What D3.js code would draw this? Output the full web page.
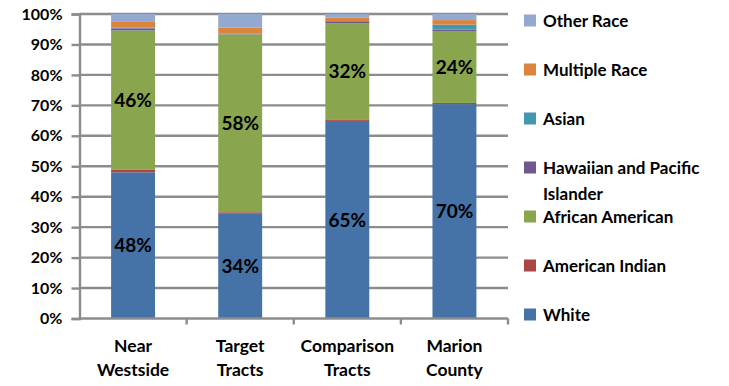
<!DOCTYPE html>
<html>
<head>
<meta charset="utf-8">
<script src="https://cdn.jsdelivr.net/npm/d3@7"></script>
<style>
  html, body { margin: 0; padding: 0; background: #fff; }
  svg { display: block; }
  text { font-family: Lato, "Open Sans", sans-serif; font-weight: bold; fill: #000; }
</style>
</head>
<body>
<svg id="chart" width="729" height="386"></svg>
<script>
// Areas compared (two-line axis labels)
const categories = ["Near Westside", "Target Tracts", "Comparison Tracts", "Marion County"];
const categoryLines = [["Near", "Westside"], ["Target", "Tracts"], ["Comparison", "Tracts"], ["Marion", "County"]];

// Race groups, bottom to top of each stack
const races = ["White", "American Indian", "African American", "Hawaiian and Pacific Islander", "Asian", "Multiple Race", "Other Race"];
const raceColors = ["#4572A7", "#AA4643", "#89A54E", "#71588F", "#4198AF", "#DB843D", "#93A9CF"];

// Share of population (%) per area, one array per race group
const white           = [48.0, 34.4, 64.9, 70.4];
const americanIndian  = [0.8, 0.5, 0.5, 0.4];
const africanAmerican = [45.8, 58.4, 31.6, 23.6];
const hawaiianPacific = [0.7, 0.1, 0.6, 0.5];
const asian           = [0.2, 0.1, 0.1, 1.6];
const multipleRace    = [1.9, 2.0, 1.1, 1.5];
const otherRace       = [2.6, 4.5, 1.2, 2.0];

const yTicks = [0, 10, 20, 30, 40, 50, 60, 70, 80, 90, 100];
// Segments that carry a percentage label
const labelledRaces = ["White", "African American"];

const seriesValues = [white, americanIndian, africanAmerican, hawaiianPacific, asian, multipleRace, otherRace];
const rows = categories.map((c, i) => {
  const r = { category: c };
  races.forEach((race, k) => { r[race] = seriesValues[k][i]; });
  return r;
});

const svg = d3.select("#chart");
const axisColor = "#8c8c8c";

const x = d3.scaleBand().domain(categories).range([79.5, 508]).paddingInner(0.59).paddingOuter(0.295);
const y = d3.scaleLinear().domain([0, 100]).range([318.5, 14]);
const color = d3.scaleOrdinal().domain(races).range(raceColors);

// Horizontal gridlines
svg.append("g")
  .selectAll("line")
  .data(yTicks.filter(t => t > 0))
  .join("line")
  .attr("x1", 79.5).attr("x2", 508)
  .attr("y1", d => y(d)).attr("y2", d => y(d))
  .attr("stroke", axisColor).attr("stroke-width", 2.4);

// Stacked bars
const stacked = d3.stack().keys(races)(rows);
svg.append("g")
  .selectAll("g")
  .data(stacked)
  .join("g")
  .attr("fill", d => color(d.key))
  .selectAll("rect")
  .data(d => d)
  .join("rect")
  .attr("x", d => x(d.data.category))
  .attr("width", x.bandwidth())
  .attr("y", d => y(d[1]))
  .attr("height", d => y(d[0]) - y(d[1]));

// Value labels in the two largest segments
stacked.filter(s => labelledRaces.includes(s.key)).forEach(s => {
  svg.append("g")
    .selectAll("text")
    .data(s)
    .join("text")
    .attr("x", d => x(d.data.category) + x.bandwidth() / 2)
    .attr("y", d => (y(d[0]) + y(d[1])) / 2)
    .attr("dy", "0.36em")
    .attr("text-anchor", "middle")
    .attr("font-size", 19)
    .text(d => Math.round(d.data[s.key]) + "%");
});

// Y axis
const yAxis = svg.append("g")
  .attr("transform", "translate(79.5,0)")
  .call(d3.axisLeft(y).tickValues(yTicks).tickSize(8).tickPadding(9).tickFormat(d => d + "%"));
yAxis.select(".domain").attr("stroke", axisColor).attr("stroke-width", 2.4);
yAxis.selectAll(".tick line").attr("stroke", axisColor).attr("stroke-width", 2.4);
yAxis.selectAll(".tick text").attr("font-size", 16).attr("font-family", "Lato, sans-serif").attr("font-weight", "bold").attr("fill", "#000");

// X axis baseline with boundary ticks between categories
const xAxis = svg.append("g");
xAxis.append("line")
  .attr("x1", 79.5).attr("x2", 508)
  .attr("y1", y(0)).attr("y2", y(0))
  .attr("stroke", axisColor).attr("stroke-width", 2.4);
xAxis.selectAll("line.sep")
  .data(categories)
  .join("line")
  .attr("class", "sep")
  .attr("x1", d => x(d) - x.step() * x.paddingInner() / 2 + x.step())
  .attr("x2", d => x(d) - x.step() * x.paddingInner() / 2 + x.step())
  .attr("y1", y(0)).attr("y2", y(0) + 6)
  .attr("stroke", axisColor).attr("stroke-width", 2.4);

xAxis.selectAll("text")
  .data(categories)
  .join("text")
  .attr("x", d => x(d) + x.bandwidth() / 2)
  .attr("y", 352)
  .attr("text-anchor", "middle")
  .attr("font-size", 17.5)
  .selectAll("tspan")
  .data((d, i) => categoryLines[i])
  .join("tspan")
  .attr("x", function () { return this.parentNode.getAttribute("x"); })
  .attr("dy", (d, j) => j === 0 ? 0 : 24)
  .text(d => d);

// Legend, top to bottom in reverse stack order
const legendItems = races.slice().reverse();
const legendLines = {
  "Hawaiian and Pacific Islander": ["Hawaiian and Pacific", "Islander"]
};
const legend = svg.append("g");
const rowGap = 49;
legendItems.forEach((race, i) => {
  const cy = 20.5 + i * rowGap;
  legend.append("rect")
    .attr("x", 524).attr("y", cy - 6)
    .attr("width", 12).attr("height", 12)
    .attr("fill", color(race));
  const t = legend.append("text")
    .attr("x", 543).attr("y", cy)
    .attr("font-size", 17);
  (legendLines[race] || [race]).forEach((line, j) => {
    t.append("tspan").attr("x", 543).attr("dy", j === 0 ? "0.36em" : 26).text(line);
  });
});
</script>
</body>
</html>
